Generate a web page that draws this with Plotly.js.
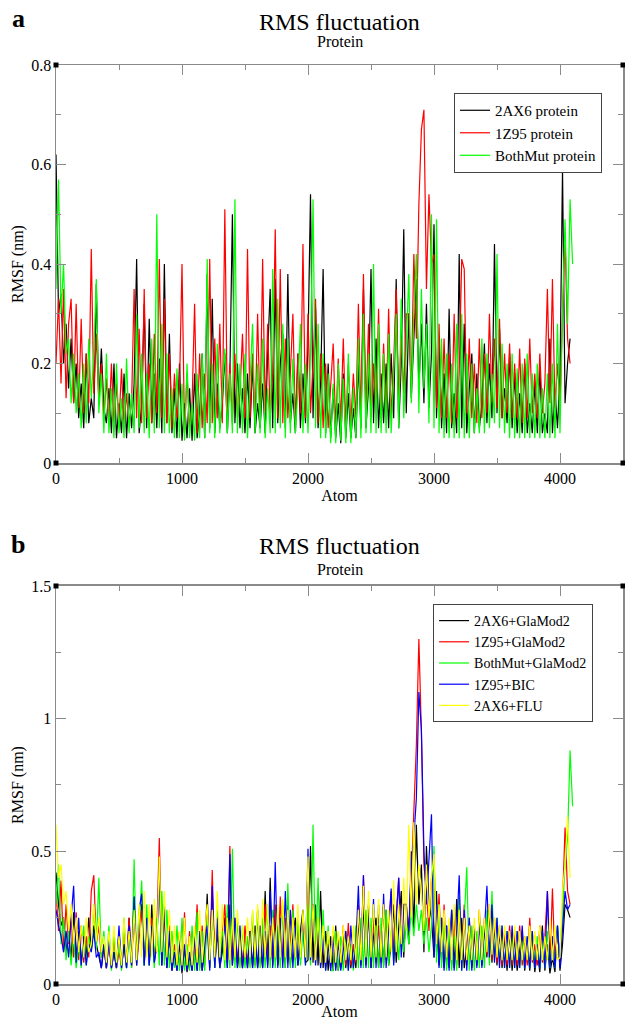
<!DOCTYPE html>
<html><head><meta charset="utf-8">
<script src="https://cdn.plot.ly/plotly-3.0.1.min.js"></script>
<style>html,body{margin:0;padding:0;background:#fff}</style>
</head><body><div id="chart" style="width:625px;height:1020px"></div>
<script>
// ---- data: RMSF (nm) sampled every 20 atoms starting at atom 0 ----
const ATOM_START = 0;
const ATOM_STEP = 20;

const namesA = ["2AX6 protein", "1Z95 protein", "BothMut protein"];
const namesB = ["2AX6+GlaMod2", "1Z95+GlaMod2", "BothMut+GlaMod2", "1Z95+BIC", "2AX6+FLU"];

const rmsfA_2AX6 = [
0.62,0.30,0.34,0.20,0.28,0.15,0.25,0.12,0.20,0.09,
0.16,0.07,0.22,0.08,0.13,0.09,0.36,0.12,0.23,0.11,
0.08,0.15,0.06,0.20,0.05,0.12,0.06,0.18,0.05,0.14,
0.07,0.16,0.41,0.06,0.12,0.32,0.07,0.29,0.08,0.18,
0.07,0.21,0.06,0.40,0.08,0.26,0.06,0.15,0.05,0.20,
0.045,0.12,0.05,0.15,0.045,0.18,0.05,0.10,0.22,0.05,
0.38,0.07,0.33,0.06,0.16,0.07,0.12,0.22,0.06,0.18,
0.50,0.08,0.20,0.07,0.15,0.06,0.18,0.07,0.20,0.06,
0.12,0.07,0.16,0.06,0.22,0.35,0.07,0.37,0.08,0.20,
0.26,0.07,0.38,0.08,0.14,0.06,0.22,0.07,0.18,0.08,
0.24,0.54,0.09,0.31,0.07,0.16,0.39,0.06,0.20,0.05,
0.15,0.05,0.12,0.04,0.18,0.05,0.14,0.05,0.11,0.05,
0.20,0.07,0.35,0.07,0.15,0.39,0.08,0.25,0.07,0.18,
0.08,0.20,0.07,0.22,0.09,0.37,0.07,0.20,0.47,0.10,
0.30,0.13,0.25,0.37,0.15,0.28,0.12,0.32,0.11,0.22,
0.48,0.09,0.25,0.07,0.18,0.06,0.31,0.07,0.14,0.06,
0.42,0.07,0.28,0.06,0.15,0.22,0.06,0.18,0.07,0.12,
0.24,0.08,0.20,0.09,0.44,0.10,0.27,0.09,0.15,0.08,
0.22,0.07,0.18,0.06,0.14,0.06,0.20,0.06,0.12,0.06,
0.16,0.06,0.19,0.06,0.10,0.06,0.25,0.06,0.15,0.07,
0.18,0.59,0.12,0.20,0.25];

const rmsfA_1Z95 = [
0.20,0.33,0.16,0.35,0.13,0.28,0.33,0.12,0.32,0.11,
0.29,0.10,0.22,0.12,0.43,0.14,0.26,0.12,0.20,0.09,
0.17,0.08,0.20,0.07,0.16,0.08,0.19,0.07,0.14,0.08,
0.12,0.35,0.09,0.27,0.08,0.35,0.09,0.20,0.08,0.26,
0.10,0.41,0.09,0.33,0.08,0.22,0.07,0.18,0.09,0.15,
0.40,0.06,0.18,0.07,0.12,0.32,0.06,0.22,0.07,0.18,
0.08,0.41,0.08,0.25,0.09,0.28,0.08,0.51,0.10,0.20,
0.08,0.22,0.09,0.14,0.26,0.09,0.43,0.09,0.22,0.08,
0.30,0.09,0.41,0.10,0.28,0.09,0.18,0.47,0.09,0.39,
0.08,0.25,0.09,0.18,0.30,0.08,0.22,0.10,0.44,0.09,
0.30,0.10,0.20,0.33,0.08,0.22,0.07,0.20,0.07,0.16,
0.24,0.07,0.21,0.08,0.25,0.07,0.20,0.08,0.18,0.09,
0.32,0.09,0.38,0.10,0.28,0.09,0.20,0.10,0.31,0.09,
0.24,0.10,0.31,0.09,0.20,0.35,0.12,0.25,0.14,0.30,
0.30,0.15,0.42,0.25,0.52,0.67,0.71,0.35,0.54,0.40,
0.42,0.11,0.28,0.09,0.25,0.09,0.22,0.08,0.30,0.09,
0.18,0.41,0.39,0.10,0.25,0.09,0.20,0.08,0.25,0.09,
0.22,0.10,0.30,0.12,0.25,0.11,0.29,0.09,0.22,0.10,
0.24,0.09,0.20,0.09,0.23,0.08,0.21,0.09,0.25,0.10,
0.18,0.09,0.22,0.10,0.16,0.35,0.12,0.37,0.11,0.20,
0.12,0.30,0.45,0.25,0.20];

const rmsfA_BothMut = [
0.35,0.57,0.30,0.40,0.22,0.25,0.12,0.22,0.10,0.18,
0.07,0.20,0.08,0.25,0.13,0.22,0.37,0.10,0.18,0.06,
0.22,0.06,0.15,0.05,0.20,0.06,0.13,0.05,0.21,0.06,
0.14,0.06,0.30,0.07,0.22,0.06,0.18,0.05,0.25,0.06,
0.50,0.07,0.28,0.06,0.22,0.06,0.15,0.05,0.19,0.05,
0.16,0.045,0.20,0.05,0.12,0.045,0.18,0.05,0.22,0.05,
0.41,0.06,0.20,0.05,0.24,0.06,0.15,0.23,0.06,0.18,
0.06,0.53,0.06,0.20,0.06,0.22,0.05,0.18,0.28,0.06,
0.20,0.06,0.25,0.05,0.15,0.06,0.39,0.06,0.33,0.07,
0.28,0.05,0.25,0.06,0.21,0.06,0.15,0.28,0.06,0.20,
0.06,0.22,0.53,0.07,0.28,0.05,0.22,0.05,0.18,0.04,
0.16,0.04,0.20,0.045,0.17,0.04,0.22,0.04,0.15,0.05,
0.25,0.05,0.30,0.06,0.22,0.06,0.40,0.06,0.28,0.06,
0.22,0.06,0.26,0.06,0.18,0.30,0.07,0.33,0.09,0.25,
0.38,0.12,0.30,0.42,0.10,0.35,0.15,0.28,0.08,0.50,
0.07,0.49,0.06,0.25,0.05,0.22,0.05,0.20,0.05,0.28,
0.05,0.30,0.05,0.22,0.05,0.20,0.06,0.15,0.06,0.25,
0.06,0.22,0.07,0.18,0.08,0.42,0.07,0.24,0.06,0.20,
0.05,0.22,0.05,0.19,0.05,0.20,0.05,0.22,0.05,0.18,
0.05,0.20,0.05,0.15,0.05,0.18,0.05,0.20,0.05,0.28,
0.06,0.30,0.49,0.28,0.53,0.40];

const rmsfB_2AX6_GlaMod2 = [
0.42,0.30,0.22,0.25,0.12,0.20,0.09,0.27,0.08,0.20,
0.08,0.18,0.10,0.25,0.13,0.22,0.15,0.10,0.06,0.14,
0.06,0.17,0.06,0.12,0.06,0.20,0.06,0.15,0.06,0.25,
0.07,0.33,0.08,0.20,0.30,0.07,0.25,0.07,0.30,0.08,
0.15,0.42,0.07,0.28,0.06,0.18,0.05,0.12,0.05,0.15,
0.04,0.13,0.045,0.10,0.05,0.18,0.05,0.20,0.05,0.12,
0.34,0.06,0.35,0.06,0.20,0.06,0.12,0.25,0.06,0.30,
0.07,0.20,0.06,0.15,0.06,0.18,0.06,0.20,0.06,0.22,
0.06,0.15,0.06,0.35,0.07,0.40,0.07,0.25,0.07,0.15,
0.28,0.06,0.30,0.07,0.18,0.25,0.07,0.20,0.28,0.08,
0.09,0.52,0.08,0.30,0.07,0.35,0.06,0.20,0.05,0.18,
0.05,0.22,0.05,0.12,0.20,0.06,0.18,0.06,0.15,0.06,
0.25,0.07,0.30,0.07,0.28,0.06,0.18,0.25,0.06,0.22,
0.07,0.28,0.07,0.15,0.30,0.08,0.22,0.35,0.10,0.30,
0.15,0.50,0.20,0.60,0.30,0.45,0.12,0.52,0.30,0.25,
0.10,0.35,0.07,0.25,0.06,0.22,0.06,0.28,0.06,0.32,
0.06,0.25,0.06,0.15,0.22,0.06,0.20,0.07,0.25,0.07,
0.22,0.10,0.28,0.08,0.22,0.07,0.20,0.06,0.18,0.05,
0.20,0.05,0.18,0.05,0.12,0.20,0.05,0.15,0.05,0.18,
0.045,0.12,0.045,0.22,0.05,0.15,0.04,0.10,0.045,0.22,
0.05,0.15,0.30,0.28,0.25];

const rmsfB_1Z95_GlaMod2 = [
0.35,0.20,0.39,0.12,0.30,0.15,0.25,0.10,0.27,0.09,
0.22,0.08,0.18,0.10,0.35,0.41,0.15,0.22,0.10,0.15,
0.06,0.16,0.06,0.18,0.06,0.12,0.07,0.22,0.07,0.25,
0.06,0.30,0.07,0.18,0.28,0.08,0.22,0.09,0.25,0.09,
0.20,0.55,0.10,0.30,0.08,0.22,0.07,0.15,0.07,0.20,
0.06,0.27,0.05,0.20,0.06,0.12,0.30,0.06,0.22,0.07,
0.28,0.07,0.43,0.07,0.25,0.07,0.18,0.30,0.08,0.52,
0.09,0.25,0.08,0.20,0.07,0.22,0.08,0.15,0.25,0.07,
0.28,0.08,0.18,0.30,0.08,0.22,0.08,0.30,0.07,0.33,
0.08,0.25,0.08,0.15,0.30,0.09,0.22,0.09,0.25,0.10,
0.45,0.10,0.30,0.09,0.25,0.07,0.20,0.06,0.18,0.06,
0.20,0.06,0.19,0.06,0.22,0.07,0.23,0.07,0.15,0.08,
0.30,0.08,0.41,0.08,0.30,0.07,0.25,0.08,0.22,0.08,
0.30,0.09,0.22,0.35,0.12,0.25,0.40,0.14,0.30,0.30,
0.20,0.40,0.62,0.90,1.30,0.95,0.45,0.35,0.20,0.40,
0.45,0.12,0.34,0.08,0.30,0.07,0.22,0.07,0.25,0.07,
0.28,0.08,0.30,0.07,0.25,0.07,0.22,0.07,0.28,0.08,
0.25,0.11,0.30,0.09,0.25,0.08,0.22,0.07,0.20,0.07,
0.22,0.07,0.20,0.07,0.22,0.07,0.18,0.07,0.25,0.08,
0.15,0.07,0.22,0.08,0.18,0.35,0.08,0.36,0.08,0.20,
0.08,0.30,0.59,0.35,0.30];

const rmsfB_BothMut_GlaMod2 = [
0.30,0.45,0.15,0.25,0.09,0.20,0.07,0.18,0.06,0.15,
0.06,0.22,0.07,0.18,0.12,0.30,0.13,0.40,0.10,0.20,
0.06,0.22,0.05,0.20,0.06,0.15,0.05,0.25,0.06,0.18,
0.06,0.47,0.07,0.25,0.39,0.07,0.30,0.07,0.22,0.06,
0.25,0.07,0.35,0.07,0.28,0.06,0.20,0.06,0.22,0.05,
0.25,0.05,0.15,0.05,0.22,0.05,0.27,0.05,0.20,0.05,
0.25,0.06,0.30,0.06,0.28,0.06,0.20,0.06,0.30,0.06,
0.51,0.06,0.25,0.06,0.22,0.06,0.18,0.06,0.27,0.06,
0.28,0.06,0.25,0.06,0.30,0.06,0.28,0.06,0.22,0.06,
0.30,0.06,0.38,0.06,0.28,0.06,0.25,0.07,0.20,0.07,
0.30,0.07,0.60,0.08,0.40,0.06,0.28,0.05,0.22,0.05,
0.05,0.20,0.05,0.18,0.05,0.20,0.05,0.15,0.05,0.22,
0.06,0.25,0.06,0.28,0.06,0.25,0.06,0.22,0.06,0.25,
0.06,0.28,0.07,0.20,0.08,0.25,0.09,0.22,0.12,0.25,
0.15,0.28,0.18,0.30,0.20,0.28,0.15,0.25,0.12,0.22,
0.52,0.08,0.30,0.06,0.25,0.05,0.20,0.05,0.18,0.05,
0.33,0.05,0.25,0.44,0.05,0.22,0.05,0.20,0.06,0.22,
0.06,0.28,0.07,0.35,0.09,0.25,0.08,0.22,0.06,0.20,
0.06,0.18,0.06,0.20,0.06,0.16,0.06,0.18,0.06,0.20,
0.06,0.18,0.06,0.16,0.06,0.20,0.06,0.18,0.06,0.22,
0.08,0.25,0.45,0.55,0.88,0.67];

const rmsfB_1Z95_BIC = [
0.28,0.22,0.18,0.12,0.20,0.10,0.25,0.37,0.08,0.25,
0.07,0.18,0.07,0.15,0.12,0.20,0.10,0.12,0.06,0.15,
0.06,0.16,0.06,0.12,0.06,0.22,0.06,0.15,0.06,0.22,
0.07,0.33,0.07,0.28,0.34,0.07,0.25,0.07,0.22,0.08,
0.15,0.45,0.07,0.30,0.06,0.20,0.05,0.12,0.05,0.18,
0.05,0.15,0.05,0.12,0.05,0.18,0.05,0.20,0.05,0.15,
0.22,0.05,0.37,0.06,0.25,0.06,0.15,0.22,0.06,0.49,
0.07,0.25,0.06,0.22,0.06,0.15,0.06,0.20,0.06,0.18,
0.06,0.22,0.06,0.20,0.06,0.35,0.06,0.46,0.06,0.25,
0.06,0.35,0.06,0.28,0.06,0.22,0.07,0.15,0.25,0.07,
0.51,0.09,0.30,0.07,0.22,0.06,0.18,0.05,0.15,0.05,
0.18,0.05,0.16,0.05,0.12,0.20,0.05,0.22,0.06,0.15,
0.37,0.06,0.41,0.06,0.30,0.06,0.32,0.06,0.30,0.06,
0.34,0.06,0.20,0.36,0.07,0.25,0.40,0.10,0.30,0.30,
0.20,0.45,0.55,0.70,1.10,0.96,0.50,0.30,0.45,0.64,
0.10,0.30,0.06,0.25,0.05,0.22,0.05,0.28,0.05,0.20,
0.41,0.05,0.28,0.05,0.25,0.05,0.22,0.06,0.25,0.06,
0.20,0.37,0.10,0.30,0.08,0.25,0.06,0.22,0.06,0.20,
0.06,0.22,0.06,0.20,0.06,0.22,0.06,0.18,0.06,0.20,
0.06,0.15,0.06,0.20,0.06,0.35,0.06,0.18,0.06,0.22,
0.06,0.20,0.35,0.28,0.30];

const rmsfB_2AX6_FLU = [
0.60,0.40,0.45,0.30,0.35,0.20,0.30,0.15,0.25,0.12,
0.22,0.10,0.25,0.12,0.15,0.30,0.16,0.25,0.12,0.18,
0.08,0.20,0.07,0.22,0.08,0.18,0.07,0.25,0.08,0.20,
0.08,0.28,0.09,0.30,0.10,0.35,0.10,0.30,0.10,0.32,
0.12,0.48,0.12,0.35,0.10,0.28,0.08,0.22,0.07,0.20,
0.07,0.25,0.07,0.18,0.07,0.22,0.08,0.28,0.08,0.20,
0.30,0.09,0.28,0.10,0.35,0.10,0.30,0.09,0.25,0.09,
0.25,0.10,0.28,0.10,0.22,0.10,0.25,0.10,0.28,0.10,
0.30,0.10,0.32,0.10,0.30,0.10,0.25,0.10,0.30,0.10,
0.32,0.10,0.28,0.10,0.25,0.10,0.30,0.10,0.28,0.10,
0.48,0.10,0.30,0.09,0.25,0.08,0.22,0.08,0.20,0.08,
0.22,0.08,0.20,0.08,0.22,0.09,0.18,0.09,0.22,0.09,
0.28,0.09,0.37,0.10,0.35,0.10,0.30,0.10,0.32,0.10,
0.30,0.10,0.28,0.12,0.39,0.12,0.30,0.15,0.40,0.20,
0.60,0.25,0.61,0.30,0.45,0.35,0.20,0.45,0.25,0.40,
0.49,0.15,0.30,0.12,0.28,0.10,0.25,0.09,0.30,0.09,
0.28,0.09,0.25,0.09,0.22,0.09,0.25,0.09,0.28,0.09,
0.25,0.12,0.30,0.11,0.25,0.10,0.22,0.09,0.22,0.09,
0.20,0.09,0.22,0.09,0.20,0.09,0.18,0.09,0.22,0.09,
0.20,0.09,0.22,0.09,0.18,0.09,0.25,0.09,0.22,0.09,
0.10,0.35,0.45,0.63,0.40];

const seriesA = [rmsfA_2AX6, rmsfA_1Z95, rmsfA_BothMut];
const seriesB = [rmsfB_2AX6_GlaMod2, rmsfB_1Z95_GlaMod2, rmsfB_BothMut_GlaMod2, rmsfB_1Z95_BIC, rmsfB_2AX6_FLU];
const colorsA = ["#000000", "#ff0000", "#00ff00"];
const colorsB = ["#000000", "#ff0000", "#00ff00", "#0000ff", "#ffff00"];

// ---- figure ----
const FONT = "'Liberation Serif', serif";
const traces = [];
seriesA.forEach((ys, i) => traces.push({
  type: "scatter", mode: "lines", name: namesA[i], y: ys, x0: ATOM_START, dx: ATOM_STEP,
  line: {color: colorsA[i], width: 1.2}, xaxis: "x", yaxis: "y", legend: "legend"
}));
seriesB.forEach((ys, i) => traces.push({
  type: "scatter", mode: "lines", name: namesB[i], y: ys, x0: ATOM_START, dx: ATOM_STEP,
  line: {color: colorsB[i], width: 1.2}, xaxis: "x2", yaxis: "y2", legend: "legend2"
}));

const axisCommon = {
  showline: true, linecolor: "#8a8a8a", linewidth: 1.5, mirror: "allticks",
  ticks: "inside", ticklen: 10, tickwidth: 1, tickcolor: "#8a8a8a",
  showgrid: false, zeroline: false,
  tickfont: {family: FONT, size: 16, color: "#000"}
};
const xax = (anchor) => Object.assign({}, axisCommon, {
  anchor: anchor, range: [0, 4500], dtick: 1000, tick0: 0,
  minor: {dtick: 500, ticks: "inside", ticklen: 5, tickcolor: "#8a8a8a"},
  title: {text: "Atom", font: {family: FONT, size: 16, color: "#000"}, standoff: 0}
});
const yax = (anchor, domain, range, dtick) => Object.assign({}, axisCommon, {
  anchor: anchor, domain: domain, range: range, dtick: dtick, tick0: 0,
  minor: {dtick: dtick / 2, ticks: "inside", ticklen: 5, tickcolor: "#8a8a8a"},
  title: {text: "RMSF (nm)", font: {family: FONT, size: 16, color: "#000"}, standoff: 3}
});

const corner = (xr, yr, xv, yv) => ({
  type: "rect", xref: xr, yref: yr, xsizemode: "pixel", ysizemode: "pixel",
  xanchor: xv, yanchor: yv, x0: -2.5, x1: 2.5, y0: -2.5, y1: 2.5,
  fillcolor: "#000", line: {width: 0}
});

const ann = (text, x, y, size, bold) => ({
  text: bold ? "<b>" + text + "</b>" : text, xref: "paper", yref: "paper",
  x: x, y: y, xanchor: "center", yanchor: "middle", showarrow: false,
  font: {family: FONT, size: size, color: "#000"}
});

const layout = {
  width: 625, height: 1020,
  margin: {l: 56, r: 2, t: 65, b: 36},
  paper_bgcolor: "#fff", plot_bgcolor: "#fff",
  font: {family: FONT, color: "#000"},
  showlegend: true,
  xaxis: xax("y"),
  yaxis: yax("x", [0.5669, 1], [0, 0.8], 0.2),
  xaxis2: xax("y2"),
  yaxis2: yax("x2", [0, 0.4331], [0, 1.5], 0.5),
  legend: {x: 0.702, y: 0.9695, xanchor: "left", yanchor: "top",
    bgcolor: "#fff", bordercolor: "#444", borderwidth: 1,
    font: {family: FONT, size: 15, color: "#000"}},
  legend2: {x: 0.665, y: 0.4135, xanchor: "left", yanchor: "top",
    bgcolor: "#fff", bordercolor: "#444", borderwidth: 1,
    font: {family: FONT, size: 14, color: "#000"}},
  annotations: [
    ann("a", -0.067, 1.0511, 26, true),
    ann("RMS fluctuation", 0.5, 1.0468, 24, false),
    ann("Protein", 0.5, 1.0261, 16, false),
    ann("b", -0.067, 0.4777, 26, true),
    ann("RMS fluctuation", 0.5, 0.4766, 24, false),
    ann("Protein", 0.5, 0.4505, 16, false)
  ],
  shapes: [
    corner("x domain", "y domain", 0, 0), corner("x domain", "y domain", 0, 1),
    corner("x domain", "y domain", 1, 0), corner("x domain", "y domain", 1, 1),
    corner("x2 domain", "y2 domain", 0, 0), corner("x2 domain", "y2 domain", 0, 1),
    corner("x2 domain", "y2 domain", 1, 0), corner("x2 domain", "y2 domain", 1, 1)
  ]
};

Plotly.newPlot("chart", traces, layout, {displayModeBar: false, staticPlot: true});
</script>
</body></html>
